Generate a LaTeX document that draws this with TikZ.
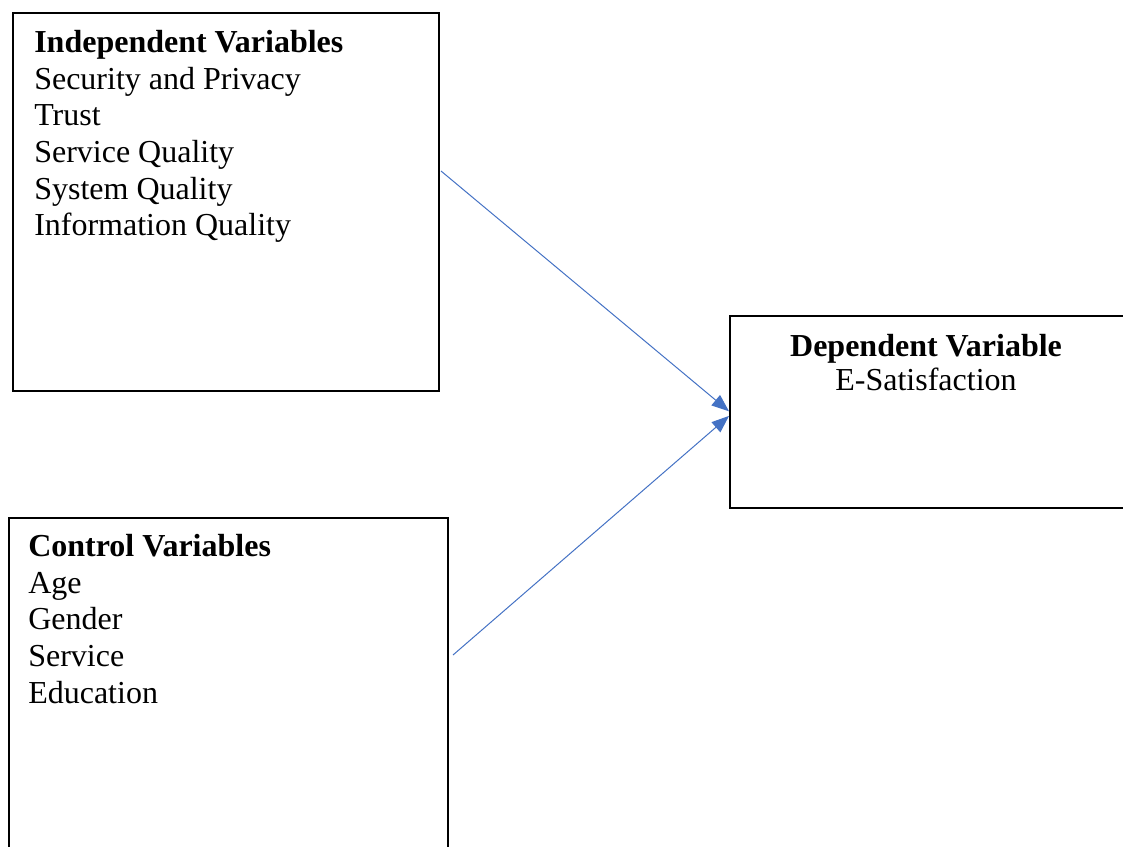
\documentclass[tikz,border=0pt]{standalone}
\usepackage{fontspec}
\setmainfont{Liberation Serif}
\usetikzlibrary{arrows.meta}
\definecolor{arrowblue}{RGB}{68,114,196}

\begin{document}
\begin{tikzpicture}[x=0.75pt,y=-0.75pt,
  box/.style={draw,line width=1.4pt,anchor=north west,inner sep=0pt},
  txt/.style={anchor=base west,inner sep=0pt,font=\fontsize{24}{28}\selectfont},
  link/.style={-{Triangle[length=13pt,width=10pt]},arrowblue,line width=0.75pt}]
\useasboundingbox (0,0) rectangle (1123,846);
\node[box,minimum width=426*0.75pt,minimum height=378*0.75pt] (ind) at (12,12) {};
\node[box,minimum width=439*0.75pt,minimum height=360*0.75pt] (ctl) at (8,517) {};
\node[box,minimum width=420*0.75pt,minimum height=192*0.75pt] (dep) at (729,315) {};
% independent variables
\node[txt] (indh) at (34,52) {\textbf{Independent Variables}};
\node[txt] (ind1) at (34,89) {Security and Privacy};
\node[txt] (ind2) at (34,125) {Trust};
\node[txt] (ind3) at (34,162) {Service Quality};
\node[txt] (ind4) at (34,199) {System Quality};
\node[txt] (ind5) at (34,235) {Information Quality};
% control variables
\node[txt] (ctlh) at (28,556) {\textbf{Control Variables}};
\node[txt] (ctl1) at (28,593) {Age};
\node[txt] (ctl2) at (28,629) {Gender};
\node[txt] (ctl3) at (28,666) {Service};
\node[txt] (ctl4) at (28,703) {Education};
% dependent variable
\node[txt,anchor=base] (deph) at (926,356) {\textbf{Dependent Variable}};
\node[txt,anchor=base] (dep1) at (926,390) {E-Satisfaction};
\coordinate (s1) at (441,171);
\coordinate (s2) at (453,655);
\draw[link] (s1)--([yshift=0.5pt]dep.west);
\draw[link] (s2)--([yshift=-3pt]dep.west);
\end{tikzpicture}
\end{document}
